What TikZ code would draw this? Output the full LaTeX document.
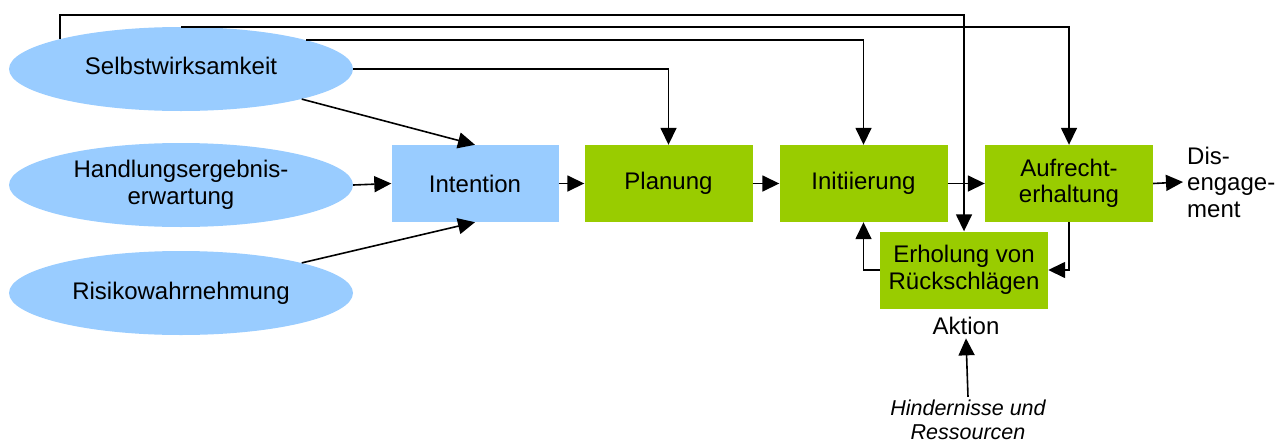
\documentclass[tikz,border=0pt]{standalone}
\usepackage{fontspec}
\setmainfont{Liberation Sans}
\usetikzlibrary{shapes.geometric,arrows.meta}
\definecolor{lblue}{HTML}{99CCFF}
\definecolor{lgreen}{HTML}{99CC00}
\begin{document}
\begin{tikzpicture}[x=1pt,y=-1pt,
  every node/.style={font=\fontsize{24}{26.5}\selectfont, align=center},
  ell/.style={ellipse, fill=lblue, minimum width=344pt, minimum height=84pt, inner sep=0pt},
  bbox/.style={rectangle, fill=lblue, minimum width=167pt, minimum height=77pt, inner sep=0pt},
  gbox/.style={rectangle, fill=lgreen, minimum width=168pt, minimum height=77pt, inner sep=0pt},
  arr/.style={line width=1.6pt, -{Triangle[length=17pt,width=16pt]}},
  note/.style={font=\fontsize{21.5}{23.5}\selectfont\itshape}
]
\useasboundingbox (0,0) rectangle (1277,442);
\node[ell] (sw) at (181,69) {\raisebox{7pt}{Selbstwirksamkeit}};
\node[ell] (he) at (181,185) {Handlungsergebnis-\\erwartung};
\node[ell] (rw) at (181,293) {Risikowahrnehmung};
\node[bbox] (int) at (475,183.5) {Intention};
\node[gbox] (pla) at (668.5,183.5) {Planung};
\node[gbox] (ini) at (863.5,183.5) {Initiierung};
\node[gbox] (auf) at (1069,183.5) {Aufrecht-\\erhaltung};
\node[gbox] (erh) at (964,270) {Erholung von\\Rückschlägen};
\node[anchor=west, inner sep=4pt, align=left] (dis) at (1183,182) {Dis-\\engage-\\ment};
\node (akt) at (966,326) {Aktion};
\node[note] (hin) at (968,420) {Hindernisse und\\Ressourcen};
\coordinate (top1) at (0,15);
\draw[arr] (sw.166) -- (sw.166 |- top1) -| (erh.north);
\draw[arr] (sw.north) -| (auf.north);
\draw[arr] (sw.13.5) -| (ini.north);
\draw[arr] (sw.east) -| (pla.north);
\draw[arr] (sw.-14) -- (int.north);
\draw[arr] (rw.14) -- (int.south);
\draw[arr] (he.east) -- (int.west);
\draw[arr] (int.east) -- (pla.west);
\draw[arr] (pla.east) -- (ini.west);
\draw[arr] (ini.east) -- (auf.west);
\draw[arr] (auf.east) -- (dis.west);
\draw[arr] (auf.south) |- (erh.east);
\draw[arr] (erh.west) -| (ini.south);
\draw[arr] (hin.north) -- (akt.south);
\end{tikzpicture}
\end{document}
